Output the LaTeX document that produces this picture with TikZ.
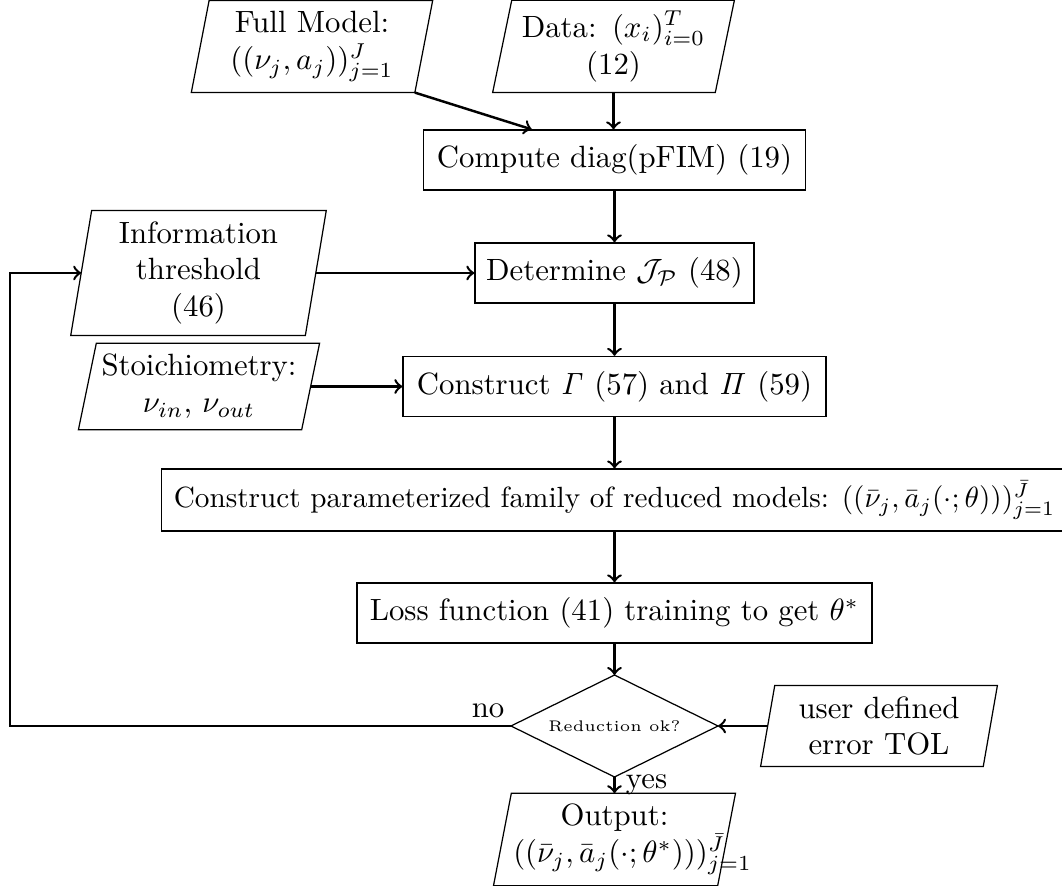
\documentclass[tikz,border=0pt]{standalone}
\usetikzlibrary{calc}
\tikzset{
  proc/.style={draw, thin, rectangle, minimum height=19.5pt, align=center, inner sep=0pt},
  iobox/.style={rectangle, align=center, inner sep=3.33pt},
  paraline/.style={draw, thin},
  arr/.style={thick, ->},
  lbl/.style={inner sep=3.33pt},
}
\newcommand\drawpara[2]{\draw[paraline] ([xshift=-#2]#1.south west) -- ([xshift=#2]#1.north west) -- ([xshift=#2]#1.north east) -- ([xshift=-#2]#1.south east) -- cycle;}
\begin{document}
\begin{tikzpicture}[x=0.325pt, y=-0.325pt]
\clip (0,0) rectangle (1062,886);
% input/output parallelograms
\node[iobox, text width=65.6pt, minimum height=28.3pt] (full) at (312,46.5) {Full Model:\\ $((\nu_j,a_j))_{j=1}^J$};
\drawpara{full}{2.9pt}
\node[iobox, text width=65.3pt, minimum height=28.3pt] (data) at (613.5,46.5) {Data: $(x_i)_{i=0}^T$\\ (12)};
\drawpara{data}{3.1pt}
\node[iobox, text width=69.2pt, minimum height=39.6pt] (info) at (198.5,273) {Information\\ threshold\\ (46)};
\drawpara{info}{3.4pt}
\node[iobox, text width=65.5pt, minimum height=26.3pt] (stoi) at (199,386.5) {Stoichiometry:\\ $\nu_{in}$, $\nu_{out}$};
\drawpara{stoi}{2.9pt}
\node[iobox, text width=65.3pt, minimum height=24.4pt] (tol) at (879,726) {user defined\\ error TOL};
\drawpara{tol}{2.3pt}
\node[iobox, text width=65.8pt, minimum height=28.3pt] (out) at (614.5,839.5) {Output:\\ $((\bar\nu_j,\bar a_j(\cdot;\theta^*)))_{j=1}^{\bar J}$};
\drawpara{out}{2.9pt}
% process boxes
\node[proc, minimum width=124.2pt] (cmp) at (614.5,160) {Compute diag(pFIM) (19)};
\node[proc, minimum width=90.7pt] (det) at (614.5,273) {Determine $\mathcal{J}_{\mathcal{P}}$ (48)};
\node[proc, minimum width=137.5pt] (con) at (614.5,386.5) {Construct $\mathit{\Gamma}$ (57) and $\mathit{\Pi}$ (59)};
\node[proc, minimum width=294.5pt, minimum height=20.1pt] (fam) at (614.5,500) {\scalebox{0.95}{Construct parameterized family of reduced models: $((\bar\nu_j,\bar a_j(\cdot;\theta)))_{j=1}^{\bar J}$}};
\node[proc, minimum width=167.4pt] (loss) at (614.5,613) {Loss function (41) training to get $\theta^*$};
% decision
\draw[thin] (511,726) coordinate (dw) -- (614.5,675) coordinate (dn) -- (718,726) coordinate (de) -- (614.5,777) coordinate (ds) -- cycle;
\node[inner sep=0pt] (dia) at (614.5,726) {\tiny Reduction ok?};
% helper coordinates
\coordinate (fullc) at ([xshift=-2.9pt]full.south east);
\coordinate (cmpin) at ([xshift=35.4pt]cmp.north west);
\coordinate (loopx) at (10,0);
% labels
\node[inner sep=0pt] (nolbl) at (488,710.5) {no};
% connectors
\draw[arr] (fullc) -- (cmpin);
\draw[arr] (data.south) -- (data.south |- cmp.north);
\draw[arr] (cmp.south) -- (det.north);
\draw[arr] (info.east) -- (info.east -| det.west);
\draw[arr] (det.south) -- (con.north);
\draw[arr] (stoi.east) -- (stoi.east -| con.west);
\draw[arr] (con.south) -- (fam.north);
\draw[arr] (fam.south) -- (loss.north);
\draw[arr] (loss.south) -- (dn);
\draw[arr] (tol.west) -- (de);
\draw[arr] (dw) -- (dw -| loopx) |- (info.west);
\draw[arr] (ds) -- node[lbl, anchor=west] (yeslbl) {yes} (out.north);
\end{tikzpicture}
\end{document}
